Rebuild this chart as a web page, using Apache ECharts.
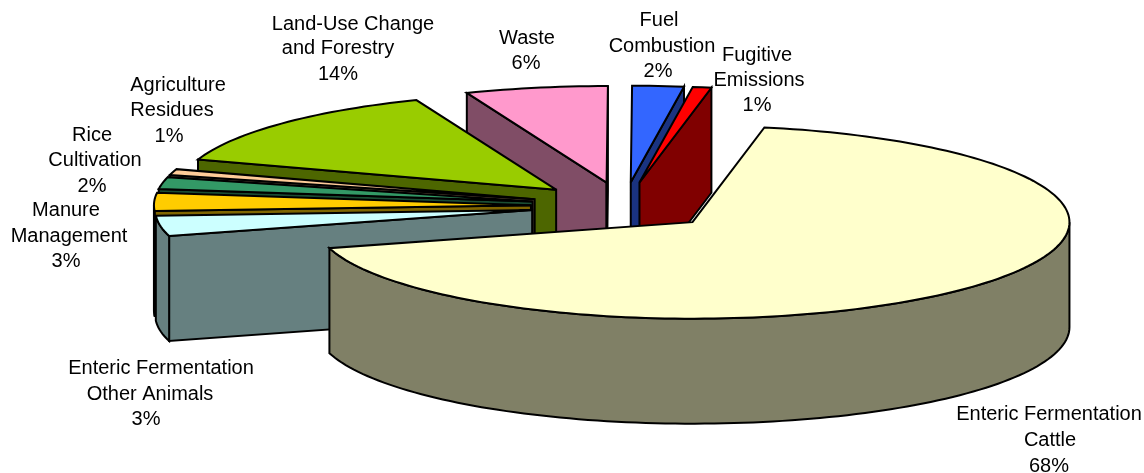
<!DOCTYPE html>
<html>
<head>
<meta charset="utf-8">
<style>html,body{margin:0;padding:0;background:#fff}#c{width:1144px;height:473px}</style>
<script src="https://cdn.jsdelivr.net/npm/echarts@6/dist/echarts.min.js"></script>
</head>
<body>
<div id="c"></div>
<script>
// ---- data ----
const categories = [['Enteric Fermentation','Cattle'],['Enteric Fermentation','Other Animals'],['Manure','Management'],['Rice','Cultivation'],['Agriculture','Residues'],['Land-Use Change','and Forestry'],['Waste'],['Fuel','Combustion'],['Fugitive','Emissions']];
const shares = [67.6,3.4,3,2,1,13.9,6.1,2.2,0.8];
// ---- styles / layout ----
const topColors  = ['#FFFFCC','#CCFFFF','#FFCC00','#339966','#FFCC99','#99CC00','#FF99CC','#3366FF','#FF0000'];
const sideColors = ['#808066','#668080','#806600','#1A4D33','#80664D','#4D6600','#804D66','#1A3380','#800000'];
const drawOrder = [6,5,4,3,2,1,7,8,0];
const labelLineAnchors = [
  [[1049,414],[1050,440],[1049,466]],
  [[161,368],[150,394],[146,419]],
  [[66,210],[69,236],[66,261]],
  [[92,135],[95,160],[92,186]],
  [[178,85],[172,110],[169,136]],
  [[353,24],[338,48],[338,74]],
  [[527,38],[526,63]],
  [[659,20],[662,46],[658,71]],
  [[757,55],[759,80],[757,105]]
];
const PIE = {cx:624, cy:206, rx:377, ry:96.5, depth:105, explode:0.247, startDeg:11};
const STROKE = {stroke:'#000', lineWidth:2, lineJoin:'miter', miterLimit:4};

const total = shares.reduce((a,b)=>a+b,0);
const starts = []; shares.reduce((acc,v,i)=>{starts[i]=acc;return acc+v;},0);
const toDeg = v => echarts.number.linearMap(v,[0,total],[0,360]);
const rad = d => d*Math.PI/180;

function renderSlice(params, api){
  const i = api.value(0), v = api.value(1), s0 = api.value(2);
  const a0 = PIE.startDeg + toDeg(s0), a1 = a0 + toDeg(v), mid = rad((a0+a1)/2);
  const ax = PIE.cx + PIE.explode*PIE.rx*Math.sin(mid);
  const ay = PIE.cy - PIE.explode*PIE.ry*Math.cos(mid);
  const pt = (d,dy) => [ax+PIE.rx*Math.sin(rad(d)), ay-PIE.ry*Math.cos(rad(d))+(dy||0)];
  const children = [];
  const add = (points,fill)=>children.push({type:'polygon',shape:{points},style:Object.assign({fill},STROKE)});
  const arc = (b0,b1,dy)=>{const n=Math.max(2,Math.ceil(Math.abs(b1-b0)/1.5));const o=[];for(let k=0;k<=n;k++)o.push(pt(b0+(b1-b0)*k/n,dy));return o;};
  const norm = d => ((d%360)+360)%360;
  // radial walls
  const ns = norm(a0), ne = norm(a1);
  if (ns>180 && ns<360) add([[ax,ay],pt(a0),pt(a0,PIE.depth),[ax,ay+PIE.depth]],sideColors[i]);
  if (ne>0 && ne<180) add([[ax,ay],pt(a1),pt(a1,PIE.depth),[ax,ay+PIE.depth]],sideColors[i]);
  // outer wall, only the part that faces the viewer (90..270)
  const lo = Math.max(a0,90), hi = Math.min(a1,270);
  if (hi>lo) add(arc(lo,hi,0).concat(arc(hi,lo,PIE.depth)),sideColors[i]);
  // top face
  add([[ax,ay]].concat(arc(a0,a1,0)),topColors[i]);
  return {type:'group',children};
}

const rows = drawOrder.map(i=>[i,shares[i],starts[i]]);
const labels = [];
categories.forEach((lines,i)=>{
  lines.concat(Math.round(shares[i])+'%').forEach((text,k)=>{
    const at = labelLineAnchors[i][k];
    labels.push({type:'text',x:at[0],y:at[1],z:100,
      style:{text,font:'20px "Liberation Sans"',fill:'#000',align:'center',verticalAlign:'middle'}});
  });
});
const chart = echarts.init(document.getElementById('c'),null,{renderer:'canvas'});
chart.setOption({
  animation:false,
  backgroundColor:'#fff',
  graphic:labels,
  series:[{type:'custom',coordinateSystem:'none',silent:true,clip:false,renderItem:renderSlice,data:rows,
    encode:{itemName:0,value:1}}]
});
</script>
</body>
</html>
